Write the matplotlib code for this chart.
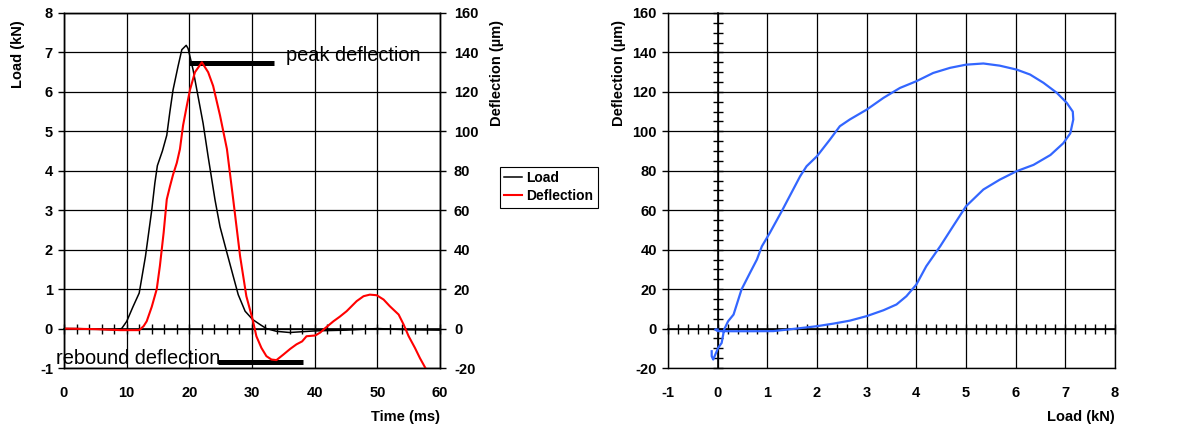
import numpy as np
import matplotlib
matplotlib.use('agg')
from matplotlib import pyplot as plt
from matplotlib.ticker import MultipleLocator

plt.rcParams['font.family'] = ['Liberation Sans', 'DejaVu Sans']
plt.rcParams['font.weight'] = 'bold'
plt.rcParams['font.size'] = 10.5
plt.rcParams['axes.unicode_minus'] = False

# left chart: load and deflection against time
load_t = [0, 2, 4, 6, 8, 9.2, 10, 11, 12, 13, 14, 14.5, 14.9, 15.7, 16.4, 16.9, 17.4, 18.2,
          18.8, 19.5, 19.8, 20.6, 21.4, 22.2, 23.0, 24.1, 24.9, 26, 27, 27.8, 28.9, 30.1,
          31.3, 32.3, 33.9, 36, 38, 40, 45, 50, 55, 60]
load_kn = [0, 0, -0.01, -0.02, -0.03, 0.0, 0.18, 0.55, 0.9, 1.83, 3.0, 3.69, 4.13, 4.5, 4.9,
           5.5, 6.05, 6.65, 7.07, 7.18, 7.1, 6.56, 5.88, 5.2, 4.36, 3.26, 2.58, 1.92, 1.33,
           0.86, 0.44, 0.23, 0.1, 0.0, -0.07, -0.1, -0.08, -0.06, -0.04, 0.0, -0.03, -0.04]

defl_t = [0, 5, 9, 12, 12.7, 13.2, 14, 14.8, 15.3, 15.9, 16.4, 16.9, 17.4, 18, 18.5, 19,
          19.6, 20.1, 20.9, 22, 23, 23.8, 24.9, 26, 27, 28.1, 29.1, 30.1, 30.7, 31.5, 32.3,
          33.1, 33.9, 35, 36.1, 37.1, 38, 38.7, 40.1, 40.9, 41.6, 43, 44, 45.1, 46.7, 47.8,
          48.8, 49.9, 51, 52, 53.4, 54.2, 55, 56, 56.8, 57.6, 58.2]
defl_um = [0, -0.3, -0.8, -0.8, 1.2, 3.7, 11, 20, 31.7, 48.6, 65.5, 72, 78, 84, 91, 103,
           113, 121, 130, 135, 130, 123, 108, 91, 65.5, 36.7, 16.4, 4.6, -3.9, -9.8, -14,
           -15.7, -16, -13.2, -10.3, -8, -6.5, -3.9, -3.5, -2, 0, 3.7, 6, 8.8, 13.9, 16.4,
           17.2, 16.9, 14.7, 11.3, 7.1, 2, -3.9, -9.8, -15, -19.6, -23]

peak_bar_t = [19.9, 33.5]
peak_bar_kn = 6.74
rebound_bar_t = [24.6, 38.1]
rebound_bar_kn = -0.85

# right chart: deflection against load (loop)
loop_kn = [0.0, -0.05, 0.0, 0.3, 0.7, 1.12, 1.59, 2.0, 2.33, 2.66, 3.0, 3.34, 3.6, 3.8, 4.0,
           4.2, 4.48, 4.74, 5.0, 5.35, 5.68, 6.02, 6.36, 6.7, 6.96, 7.1, 7.16, 7.15, 7.03,
           6.83, 6.56, 6.29, 6.02, 5.68, 5.35, 5.0, 4.68, 4.34, 4.0, 3.67, 3.34, 3.0, 2.66,
           2.46, 2.26, 2.0, 1.79, 1.66, 1.52, 1.29, 1.05, 0.89, 0.79, 0.65, 0.48, 0.32,
           0.21, 0.13, 0.08, 0.01, -0.09, -0.12, -0.12]
loop_um = [-0.5, -0.5, -1.3, -1.35, -1.35, -1.3, 0.0, 1.2, 2.5, 4.0, 6.3, 9.3, 12.2, 16.4,
           22.3, 31.6, 41.7, 51.9, 62, 70.5, 75.5, 79.8, 83, 88, 94, 99, 106, 110, 114.4,
           119.5, 124.6, 128.8, 131.3, 133.3, 134.4, 133.8, 132.2, 129.6, 125.4, 122, 117,
           111, 106, 102.6, 95.8, 87.4, 82.3, 77.2, 70.5, 59.5, 48.5, 41.7, 35, 28.2, 19.8,
           7.1, 3.7, -0.5, -7.3, -9.8, -15.7, -14, -11.5]

fig = plt.figure(figsize=(12, 4.28), dpi=100)

# ---- left chart
ax = fig.add_axes([64 / 1200, 60 / 428, 376 / 1200, 355 / 428])
ax2 = ax.twinx()

l_load, = ax.plot(load_t, load_kn, color='black', lw=1.1, label='Load')
l_defl, = ax2.plot(defl_t, defl_um, color='red', lw=1.5, label='Deflection')
ax.plot(peak_bar_t, [peak_bar_kn] * 2, color='black', lw=3.6, solid_capstyle='butt')
ax.plot(rebound_bar_t, [rebound_bar_kn] * 2, color='black', lw=3.6, solid_capstyle='butt')
ax.text(35.4, 6.91, 'peak deflection', fontsize=14.4, fontweight='normal', va='center', ha='left')
ax.text(-1.2, -0.77, 'rebound deflection', fontsize=14.4, fontweight='normal', va='center',
        ha='left', zorder=5)

ax.set_xlim(0, 60)
ax.set_ylim(-1, 8)
ax2.set_ylim(-20, 160)
ax.xaxis.set_major_locator(MultipleLocator(10))
ax.yaxis.set_major_locator(MultipleLocator(1))
ax2.yaxis.set_major_locator(MultipleLocator(20))
ax.grid(True, color='black', lw=0.9)
ax.set_axisbelow(True)
ax.tick_params(axis='x', length=0, pad=13)
ax.tick_params(axis='y', direction='out', length=4, width=1, pad=4)
ax2.tick_params(axis='y', direction='out', length=4, width=1, pad=6)
for s in list(ax.spines.values()) + list(ax2.spines.values()):
    s.set_linewidth(1)

zx = ax.secondary_xaxis(1 / 9)
zx.spines['bottom'].set_linewidth(1.2)
zx.spines['top'].set_linewidth(1.2)
zx.xaxis.set_major_locator(MultipleLocator(10))
zx.xaxis.set_minor_locator(MultipleLocator(2))
zx.tick_params(which='both', direction='inout', length=7, width=1,
               labeltop=False, labelbottom=False)

fig.text(18 / 1200, 1 - 20 / 428, 'Load (kN)', rotation=90, ha='center', va='top')
fig.text(497 / 1200, 1 - 20 / 428, 'Deflection (µm)', rotation=90, ha='center', va='top')
fig.text(440 / 1200, 1 - 417 / 428, 'Time (ms)', ha='right', va='center')

leg = fig.legend(handles=[l_load, l_defl], loc='upper left',
                 bbox_to_anchor=(500 / 1200, 1 - 167 / 428), borderaxespad=0,
                 fontsize=10, handlelength=1.3, handletextpad=0.3, labelspacing=0.3,
                 borderpad=0.3, fancybox=False, framealpha=1, edgecolor='black')
leg.get_frame().set_linewidth(0.8)

# ---- right chart
bx = fig.add_axes([668 / 1200, 60 / 428, 447 / 1200, 355 / 428])
bx.plot(loop_kn, loop_um, color='#3366FF', lw=1.6)
bx.set_xlim(-1, 8)
bx.set_ylim(-20, 160)
bx.xaxis.set_major_locator(MultipleLocator(1))
bx.yaxis.set_major_locator(MultipleLocator(20))
bx.grid(True, color='black', lw=0.9)
bx.set_axisbelow(True)
bx.tick_params(axis='x', length=0, pad=13)
bx.tick_params(axis='y', direction='out', length=4, width=1, pad=4)
for s in bx.spines.values():
    s.set_linewidth(1)

bzx = bx.secondary_xaxis(1 / 9)
bzx.spines['bottom'].set_linewidth(1.2)
bzx.spines['top'].set_linewidth(1.2)
bzx.xaxis.set_major_locator(MultipleLocator(1))
bzx.xaxis.set_minor_locator(MultipleLocator(0.2))
bzx.tick_params(which='both', direction='inout', length=7, width=1,
                labeltop=False, labelbottom=False)

bzy = bx.secondary_yaxis(1 / 9)
bzy.spines['left'].set_linewidth(1.2)
bzy.spines['right'].set_linewidth(1.2)
bzy.yaxis.set_major_locator(MultipleLocator(20))
bzy.yaxis.set_minor_locator(MultipleLocator(5))
bzy.tick_params(which='both', direction='inout', length=7, width=1,
                labelleft=False, labelright=False)

fig.text(619 / 1200, 1 - 20 / 428, 'Deflection (µm)', rotation=90, ha='center', va='top')
fig.text(1115 / 1200, 1 - 417 / 428, 'Load (kN)', ha='right', va='center')

fig.savefig('out.png', dpi=100)
